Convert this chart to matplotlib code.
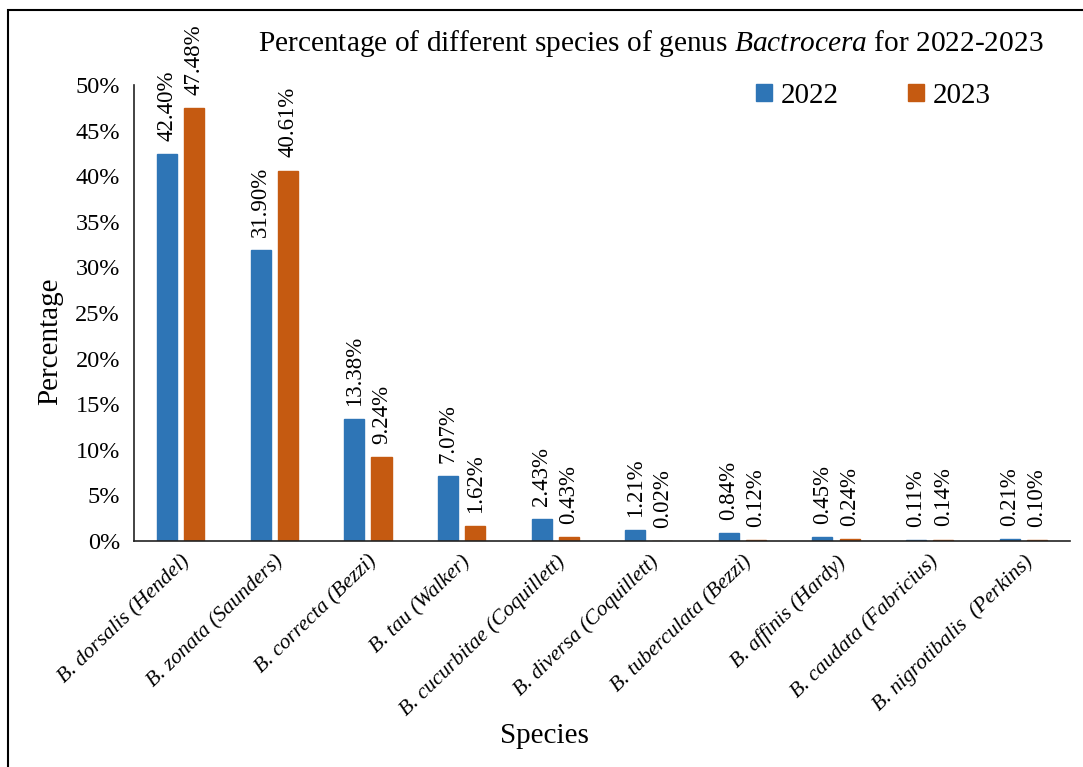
import matplotlib
matplotlib.use("Agg")
import matplotlib.pyplot as plt
import numpy as np
from matplotlib.patches import Rectangle

plt.rcParams['font.family'] = ['Liberation Serif', 'DejaVu Serif']
plt.rcParams['mathtext.fontset'] = 'custom'
plt.rcParams['mathtext.rm'] = 'Liberation Serif'
plt.rcParams['mathtext.it'] = 'Liberation Serif:italic'

species = ["B. dorsalis (Hendel)", "B. zonata (Saunders)", "B. correcta (Bezzi)",
           "B. tau (Walker)", "B. cucurbitae (Coquillett)", "B. diversa (Coquillett)",
           "B. tuberculata (Bezzi)", "B. affinis (Hardy)", "B. caudata (Fabricius)",
           "B. nigrotibalis  (Perkins)"]
pct_2022 = [42.40, 31.90, 13.38, 7.07, 2.43, 1.21, 0.84, 0.45, 0.11, 0.21]
pct_2023 = [47.48, 40.61, 9.24, 1.62, 0.43, 0.02, 0.12, 0.24, 0.14, 0.10]
years = ["2022", "2023"]
colors = ["#2E75B6", "#C55A11"]

fig = plt.figure(figsize=(10.83, 7.67), dpi=100)
ax = fig.add_axes([0.1237, 0.2947, 0.8643, 0.5945])

x = np.arange(len(species))
w = 0.215
gap = 0.075
off = (w + gap) / 2
for vals, sign, col, lab in [(pct_2022, -1, colors[0], years[0]),
                              (pct_2023, 1, colors[1], years[1])]:
    bars = ax.bar(x + sign * off, vals, width=w, color=col, edgecolor=col,
                  linewidth=1.0, label=lab)
    for b, v in zip(bars, vals):
        ax.annotate(f"{v:.2f}%", (b.get_x() + b.get_width() / 2, v),
                    xytext=(0, 9.5), textcoords="offset points",
                    rotation=90, ha="center", va="bottom", fontsize=16.5)

ax.set_xlim(-0.5, len(species) - 0.5)
ax.set_ylim(0, 50)
ax.set_yticks(np.arange(0, 51, 5))
ax.set_yticklabels([f"{t}%" for t in range(0, 51, 5)], fontsize=17.5)
ax.set_xticks(x)
ax.set_xticklabels(species, rotation=44, ha="right", rotation_mode="anchor",
                   fontsize=15.5, style="italic")
ax.tick_params(axis="y", length=0, pad=10)
ax.tick_params(axis="x", length=0, pad=8)
for s in ["top", "right"]:
    ax.spines[s].set_visible(False)
for s in ["left", "bottom"]:
    ax.spines[s].set_color("#222222")
    ax.spines[s].set_linewidth(1.2)

ax.set_ylabel("Percentage", fontsize=21)
ax.yaxis.set_label_coords(-0.076, 0.439)
ax.set_xlabel("Species", fontsize=21)
ax.xaxis.set_label_coords(0.439, -0.40)

fig.text(0.601, 0.943, "Percentage of different species of genus $\\it{Bactrocera}$ for 2022-2023",
         ha="center", va="center", fontsize=21.2)

ax.legend(loc="center", bbox_to_anchor=(0.79, 0.976), ncol=2, frameon=False,
          fontsize=21, handlelength=0.55, handleheight=0.55, handletextpad=0.3,
          columnspacing=2.35)

fig.patches.append(Rectangle((8 / 1083, -0.1), 1.2, 1 - 10 / 767 + 0.1,
                             transform=fig.transFigure, fill=False,
                             edgecolor="black", linewidth=1.5))

fig.savefig("out.png", dpi=100)
